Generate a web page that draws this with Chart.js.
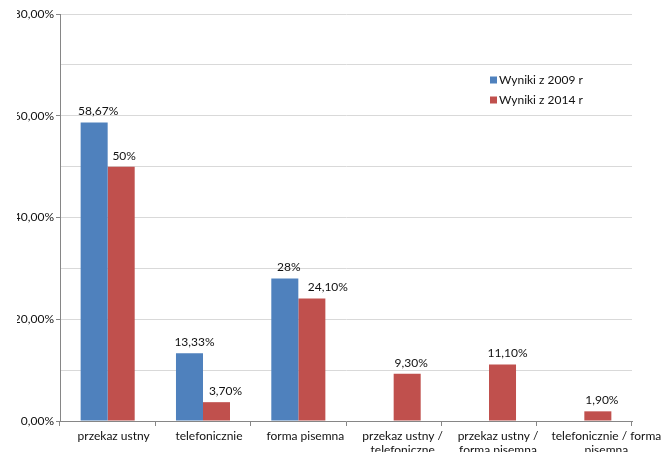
<!DOCTYPE html>
<html>
<head>
<meta charset="utf-8">
<script src="https://cdn.jsdelivr.net/npm/chart.js@4.4.1/dist/chart.umd.min.js"></script>
<style>
  html, body { margin: 0; padding: 0; background: #fff; overflow: hidden; }
  #wrap { position: absolute; left: 17px; top: 0; width: 651px; height: 452px; }
</style>
</head>
<body>
<div id="wrap"><canvas id="chart"></canvas></div>
<script>
const categories = [
  "przekaz ustny",
  "telefonicznie",
  "forma pisemna",
  ["przekaz ustny /", "telefoniczne"],
  ["przekaz ustny /", "forma pisemna"],
  ["telefonicznie / forma", "pisemna"]
];
const series2009 = [58.67, 13.33, 28, null, null, null];
const series2014 = [50, 3.70, 24.10, 9.30, 11.10, 1.90];
const seriesNames = ["Wyniki z 2009 r", "Wyniki z 2014 r"];
const seriesColors = ["#4F81BD", "#C0504D"];

const font = "Lato";
const textColor = "#111";

// horizontal nudges for labels (px)
const categoryLabelShift = [6, 6, 7, 9, 9, 22];
const valueLabelShift = [[4, 5, 4], [3, 9, 16, 4, 5, 4]];

function pct(v, digits) {
  return v.toFixed(digits).replace(".", ",") + "%";
}

function valueLabel(v) {
  return Number.isInteger(v) ? v + "%" : pct(v, 2);
}

// value labels above each bar
const barLabels = {
  id: "barLabels",
  afterDatasetsDraw(chart) {
    const ctx = chart.ctx;
    ctx.save();
    ctx.font = "12px " + font;
    ctx.fillStyle = textColor;
    ctx.textAlign = "center";
    ctx.textBaseline = "middle";
    chart.data.datasets.forEach((ds, di) => {
      chart.getDatasetMeta(di).data.forEach((bar, i) => {
        const v = ds.data[i];
        if (v == null) return;
        ctx.fillText(valueLabel(v), bar.x + (valueLabelShift[di][i] || 0), bar.y - 11);
      });
    });
    ctx.restore();
  }
};

// category names under the axis, wrapped onto two lines where needed
const categoryLabels = {
  id: "categoryLabels",
  afterDraw(chart) {
    const ctx = chart.ctx;
    const x = chart.scales.x;
    ctx.save();
    ctx.font = "12px " + font;
    ctx.fillStyle = textColor;
    ctx.textAlign = "center";
    ctx.textBaseline = "middle";
    categories.forEach((name, i) => {
      const lines = Array.isArray(name) ? name : [name];
      const cx = x.getPixelForTick(i) + categoryLabelShift[i];
      lines.forEach((line, li) => ctx.fillText(line, cx, x.top + 15 + li * 14));
    });
    ctx.restore();
  }
};

// legend sits inside the plot, to the right
const innerLegend = {
  id: "innerLegend",
  afterDraw(chart) {
    const ctx = chart.ctx;
    const x = chart.chartArea.right - 142;
    let y = chart.chartArea.top + 66;
    ctx.save();
    ctx.font = "12px " + font;
    ctx.textBaseline = "middle";
    ctx.textAlign = "left";
    seriesNames.forEach((name, i) => {
      ctx.fillStyle = seriesColors[i];
      ctx.fillRect(x, y - 3.5, 7, 7);
      ctx.fillStyle = textColor;
      ctx.fillText(name, x + 9, y);
      y += 20;
    });
    ctx.restore();
  }
};

new Chart(document.getElementById("chart"), {
  type: "bar",
  data: {
    labels: categories,
    datasets: [
      {label: seriesNames[0], data: series2009, backgroundColor: seriesColors[0]},
      {label: seriesNames[1], data: series2014, backgroundColor: seriesColors[1]}
    ]
  },
  options: {
    responsive: true,
    maintainAspectRatio: false,
    animation: false,
    categoryPercentage: 0.567,
    barPercentage: 1,
    layout: {padding: {top: 14, right: 36, left: 0, bottom: 0}},
    plugins: {legend: {display: false}, tooltip: {enabled: false}},
    scales: {
      x: {
        afterFit: scale => { scale.height = 31; },
        border: {color: "#868686"},
        grid: {offset: true, drawOnChartArea: false, tickLength: 5, tickColor: "#868686"},
        ticks: {display: false}
      },
      y: {
        min: 0,
        max: 80,
        afterFit: scale => { scale.width = 43; },
        border: {color: "#868686"},
        grid: {
          color: "#d9d9d9",
          tickLength: 4,
          tickColor: c => c.tick && c.tick.value % 20 === 0 ? "#868686" : "rgba(0,0,0,0)"
        },
        ticks: {
          stepSize: 10,
          color: textColor,
          font: {family: font, size: 12},
          padding: 2,
          callback: v => v % 20 === 0 ? pct(v, 2) : ""
        }
      }
    }
  },
  plugins: [barLabels, categoryLabels, innerLegend]
});
</script>
</body>
</html>
